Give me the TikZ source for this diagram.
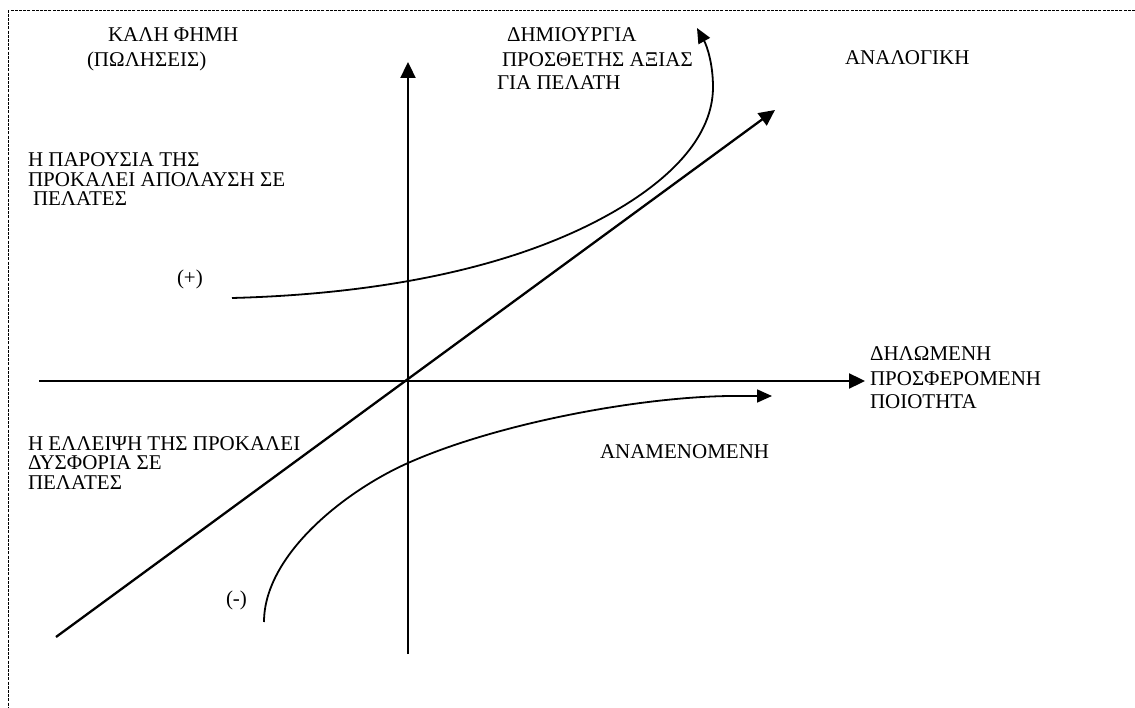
\documentclass[tikz,border=0pt]{standalone}
\usepackage{fontspec}
\setmainfont{Liberation Serif}
\usetikzlibrary{arrows.meta}
\newcommand\lbfont{\fontsize{21pt}{19.5pt}\selectfont}
\tikzset{
  lbl/.style={font=\lbfont, inner sep=0pt, outer sep=0pt, anchor=base west, align=left},
  axisline/.style={line width=2.3pt, -{Triangle[length=16pt,width=15pt]}},
  curvearrow/.style={line width=1.8pt, -{Triangle[length=15pt,width=13pt]}},
  borderline/.style={line width=1pt, dash pattern=on 3pt off 1.2pt}
}
\begin{document}
\begin{tikzpicture}[x=1pt,y=-1pt]
\useasboundingbox (0,0) rectangle (1135,708);
% dashed frame
\coordinate (fTR) at (1135,11);
\coordinate (fTL) at (8,11);
\coordinate (fBL) at (8,708);
\draw[borderline] (fTR) -- (fTL) -- (fBL);
% axes
\coordinate (vB) at (408,654);
\coordinate (vT) at (408,62);
\coordinate (hL) at (39,381);
\coordinate (hR) at (865,381);
\coordinate (dB) at (56,637);
\coordinate (dT) at (775,110);
\draw[axisline] (vB) -- (vT);
\draw[axisline] (hL) -- (hR);
\draw[axisline] (dB) -- (dT);
% (+) curve
\coordinate (pA) at (232,298);
\coordinate (pB) at (625,205);
\coordinate (pC) at (713,87);
\coordinate (pD) at (697,28);
\draw[curvearrow] (pA) .. controls (382,294) and (525,267) .. (pB)
  .. controls (670,177) and (713,137) .. (pC)
  .. controls (713,64) and (707,46) .. (pD);
% (-) curve
\coordinate (mA) at (264,622);
\coordinate (mB) at (408,463);
\coordinate (mC) at (730,396);
\coordinate (mD) at (772,396);
\draw[curvearrow] (mA) .. controls (264,555) and (345,491) .. (mB)
  .. controls (498,423) and (640,397) .. (mC) -- (mD);
% labels
\node[lbl] (kali) at (87,67) {\hspace*{21pt}ΚΑΛΗ ΦΗΜΗ\\[5.5pt](ΠΩΛΗΣΕΙΣ)};
\node[lbl] (dimiourgia) at (497,90) {\hspace*{10pt}ΔΗΜΙΟΥΡΓΙΑ\\[5pt]\hspace*{5pt}ΠΡΟΣΘΕΤΗΣ ΑΞΙΑΣ\\[4pt]ΓΙΑ ΠΕΛΑΤΗ};
\node[lbl] (analogiki) at (845,65) {ΑΝΑΛΟΓΙΚΗ};
\node[lbl] (parousia) at (28,206) {Η ΠΑΡΟΥΣΙΑ ΤΗΣ\\ΠΡΟΚΑΛΕΙ ΑΠΟΛΑΥΣΗ ΣΕ\\\hspace*{5pt}ΠΕΛΑΤΕΣ};
\node[lbl] (plus) at (177,285) {(+)};
\node[lbl] (dilomeni) at (870,409) {ΔΗΛΩΜΕΝΗ\\[5pt]ΠΡΟΣΦΕΡΟΜΕΝΗ\\[4.5pt]ΠΟΙΟΤΗΤΑ};
\node[lbl] (elleipsi) at (28,489) {Η ΕΛΛΕΙΨΗ ΤΗΣ ΠΡΟΚΑΛΕΙ\\ΔΥΣΦΟΡΙΑ ΣΕ\\ΠΕΛΑΤΕΣ};
\node[lbl] (anamenomeni) at (600,458) {ΑΝΑΜΕΝΟΜΕΝΗ};
\node[lbl] (minus) at (226,605) {(-)};
\end{tikzpicture}
\end{document}
